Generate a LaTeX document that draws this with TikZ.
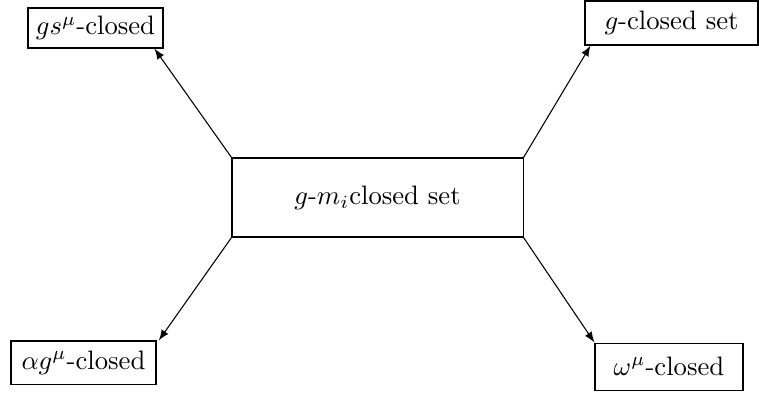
\documentclass[tikz,border=0pt]{standalone}
\usepackage{amsmath, amssymb}

\begin{document}
\begin{tikzpicture}[>=latex, setbox/.style={draw, rectangle, inner sep=0pt}]
        \useasboundingbox (0,0) rectangle (10,-5.191);
        \node[setbox, minimum width=3.834cm, minimum height=1.041cm] (gmi) at (4.974,-2.602) {$g$-$m_i$closed set};
        \node[setbox, minimum width=1.779cm, minimum height=0.527cm] (gs) at (1.258,-0.369) {$gs^{\mu}$-closed};
        \node[setbox, minimum width=2.279cm, minimum height=0.580cm] (gc) at (8.847,-0.303) {$g$-closed set};
        \node[setbox, minimum width=1.910cm, minimum height=0.567cm] (ag) at (1.100,-4.776) {$\alpha g^{\mu}$-closed};
        \node[setbox, minimum width=1.950cm, minimum height=0.619cm] (om) at (8.814,-4.829) {$\omega^{\mu}$-closed};

        \draw[->] (gmi.north west) -- ([xshift=-0.12cm]gs.south east);
        \draw[->] (gmi.north east) -- ([xshift=0.08cm]gc.south west);
        \draw[->] (gmi.south west) -- ([xshift=0.03cm]ag.north east);
        \draw[->] (gmi.south east) -- (om.north west);
    \end{tikzpicture}
\end{document}
